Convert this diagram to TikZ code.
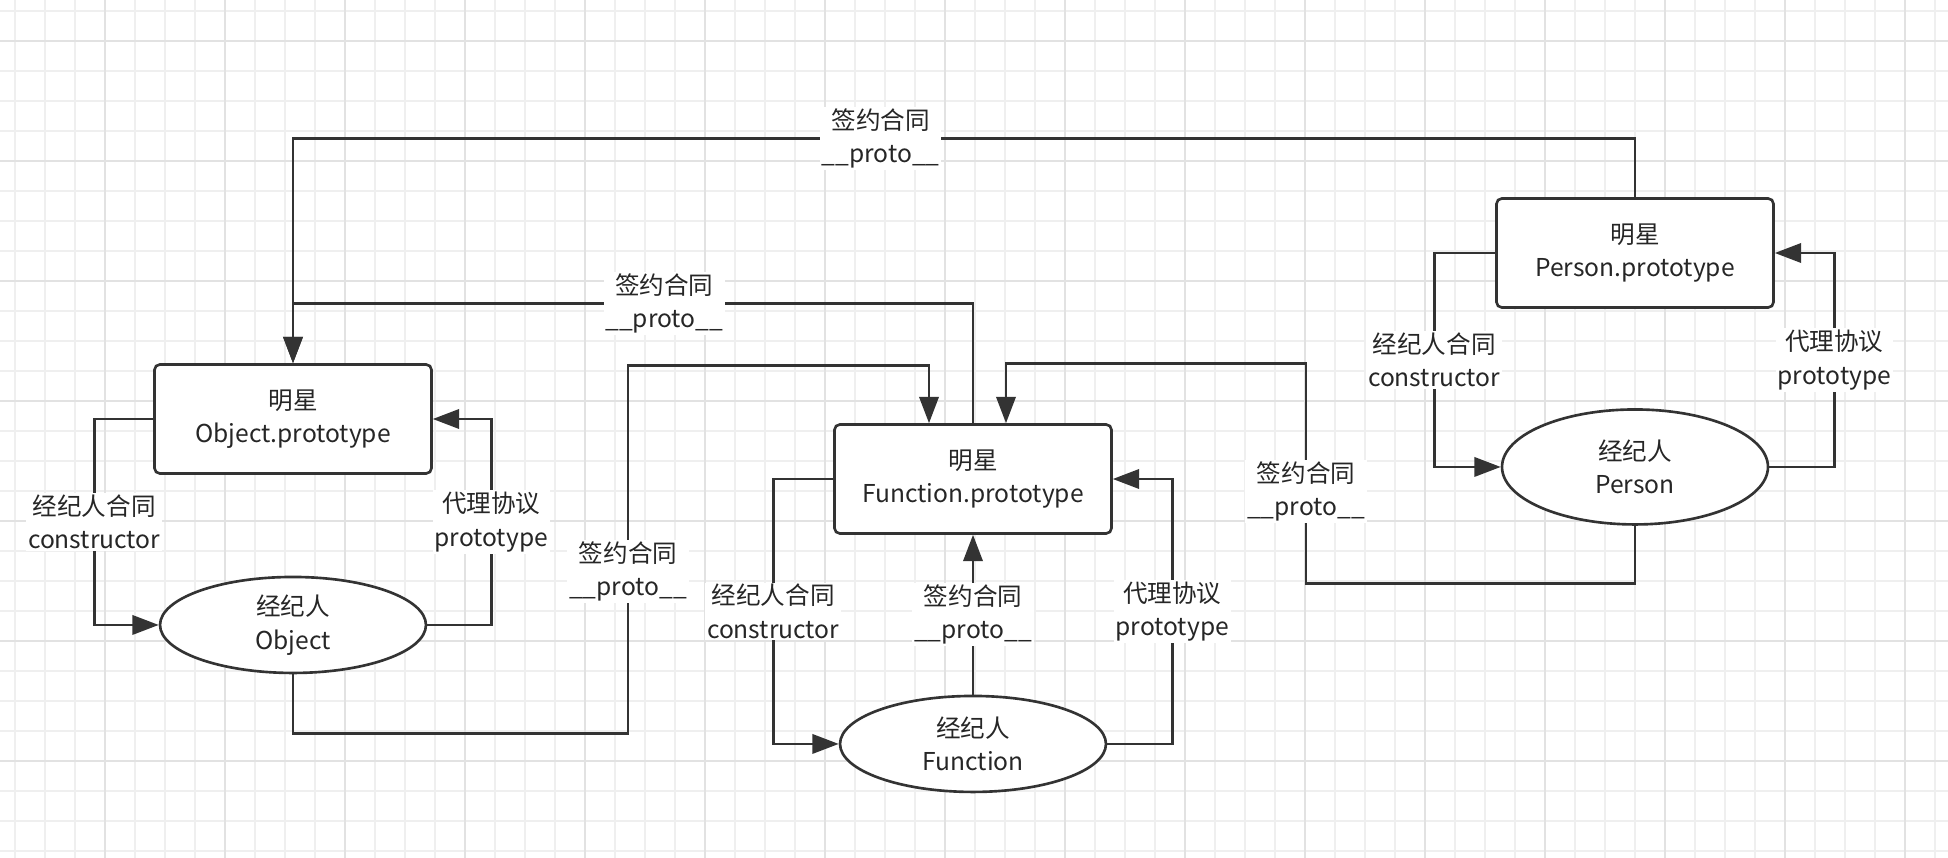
\documentclass[tikz,border=0pt]{standalone}
\usepackage{fontspec}
\setmainfont{Noto Sans CJK SC}
\usetikzlibrary{arrows.meta, positioning, shapes.geometric}
\definecolor{ink}{HTML}{333333}
\definecolor{gridlo}{HTML}{EFEFEF}
\definecolor{gridhi}{HTML}{E2E2E2}

\begin{document}
\begin{tikzpicture}[
      x=0.02cm, y=-0.02cm, on grid, >={Triangle[length=15pt,width=11pt]},
      font=\fontsize{14}{19}\selectfont, text=black!85,
      idol/.style={draw=ink, line width=1.5pt, rounded corners=3pt, fill=white,
        minimum width=5.54cm, minimum height=2.18cm, align=center},
      agent/.style={ellipse, draw=ink, line width=1.5pt, fill=white,
        minimum width=5.32cm, minimum height=1.92cm, inner sep=0pt, align=center},
      lbl/.style={fill=white, inner sep=1pt, align=center},
      link/.style={->, draw=ink, line width=1.5pt},
      ]

      \useasboundingbox (0,0) rectangle (1948,858);
      \fill[white] (0,0) rectangle (1948,858);
      \foreach \x in {15,45,...,1935} \draw[gridlo, line width=0.6pt] (\x,0) -- (\x,858);
      \foreach \y in {11,41,...,851} \draw[gridlo, line width=0.6pt] (0,\y) -- (1948,\y);
      \foreach \x in {105,225,...,1905} \draw[gridhi, line width=0.6pt] (\x,0) -- (\x,858);
      \foreach \y in {41,161,...,761} \draw[gridhi, line width=0.6pt] (0,\y) -- (1948,\y);

      \node[idol] (o_proto) at (293,419) {明星\\Object.prototype};
      \node[agent, below=4.12cm of o_proto] (o_ctor) {经纪人\\Object};
      \node[idol] (f_proto) at (973,479) {明星\\Function.prototype};
      \node[agent, below=5.3cm of f_proto] (f_ctor) {经纪人\\Function};
      \node[idol] (p_proto) at (1635,253) {明星\\Person.prototype};
      \node[agent, minimum height=2.3cm, below=4.28cm of p_proto] (p_ctor) {经纪人\\Person};

      % Object
      \draw[link] (o_proto.west) -- ++(-59,0) |- node[lbl,pos=0.25]{经纪人合同\\constructor} (o_ctor.west);
      \draw[link] (o_ctor.east) -- ++(64,0) |- node[lbl,pos=0.25]{代理协议\\prototype} (o_proto.east);
      \draw[link] (o_ctor.south) -- ++(0,59) -| node[lbl,pos=0.72]{签约合同\\\_\_proto\_\_} ++(335,-368)
        -| ([xshift=-0.88cm]f_proto.north);

      % Function
      \draw[link] (f_proto.west) -- ++(-60,0) |- node[lbl,pos=0.25]{经纪人合同\\constructor} (f_ctor.west);
      \draw[link] (f_ctor.east) -- ++(65,0) |- node[lbl,pos=0.25]{代理协议\\prototype} (f_proto.east);
      \draw[link] (f_ctor) -- node[lbl]{签约合同\\\_\_proto\_\_} (f_proto);
      \draw[link] (f_proto.north) -- ++(0,-120) -| node[lbl,pos=0.227]{签约合同\\\_\_proto\_\_} (o_proto.north);

      % Person
      \draw[link] (p_proto.west) -- ++(-61,0) |- node[lbl,pos=0.25]{经纪人合同\\constructor} (p_ctor.west);
      \draw[link] (p_ctor.east) -- ++(65,0) |- node[lbl,pos=0.25]{代理协议\\prototype} (p_proto.east);
      \draw[link] (p_ctor.south) -- ++(0,58) -| node[lbl,pos=0.71]{签约合同\\\_\_proto\_\_} ++(-329,-220)
        -| ([xshift=0.66cm]f_proto.north);
      \draw[link] (p_proto.north) -- ++(0,-59) -| node[lbl,pos=0.281]{签约合同\\\_\_proto\_\_} (o_proto.north);
    \end{tikzpicture}
\end{document}
